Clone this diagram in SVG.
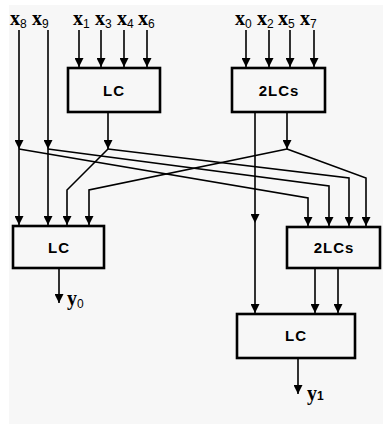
<svg xmlns="http://www.w3.org/2000/svg" width="383" height="424" viewBox="0 0 383 424">
<style>
.box{fill:none;stroke:#000;stroke-width:2.6}
.ln{fill:none;stroke:#000;stroke-width:1.6}
.ar{marker-end:url(#ah)}
.bl{font-family:"Liberation Sans",Arial,sans-serif;font-weight:bold;font-size:15px;text-anchor:middle;letter-spacing:1px}
.xv{font-family:"Liberation Serif","Times New Roman",serif;font-weight:bold;font-size:20px}
.sb{font-family:"Liberation Sans",Arial,sans-serif;font-size:12px}
</style>
<defs>
<marker id="ah" viewBox="0 0 10 10" refX="10" refY="5" markerWidth="10" markerHeight="9" markerUnits="userSpaceOnUse" orient="auto">
<path d="M0,0 L10,5 L0,10 z" fill="#000"/>
</marker>
</defs>
<rect x="0" y="0" width="383" height="424" fill="#fff"/>
<rect x="9" y="5" width="374" height="419" fill="#f7f7f7"/>

<g id="labels">
<text x="10" y="25"><tspan class="xv">x</tspan><tspan class="sb" dy="3">8</tspan></text>
<text x="32" y="25"><tspan class="xv">x</tspan><tspan class="sb" dy="3">9</tspan></text>
<text x="73" y="25"><tspan class="xv">x</tspan><tspan class="sb" dy="3">1</tspan></text>
<text x="95" y="25"><tspan class="xv">x</tspan><tspan class="sb" dy="3">3</tspan></text>
<text x="117" y="25"><tspan class="xv">x</tspan><tspan class="sb" dy="3">4</tspan></text>
<text x="138" y="25"><tspan class="xv">x</tspan><tspan class="sb" dy="3">6</tspan></text>
<text x="235" y="25"><tspan class="xv">x</tspan><tspan class="sb" dy="3">0</tspan></text>
<text x="257" y="25"><tspan class="xv">x</tspan><tspan class="sb" dy="3">2</tspan></text>
<text x="278" y="25"><tspan class="xv">x</tspan><tspan class="sb" dy="3">5</tspan></text>
<text x="300" y="25"><tspan class="xv">x</tspan><tspan class="sb" dy="3">7</tspan></text>
<text x="67" y="305"><tspan class="xv">y</tspan><tspan class="sb" dy="3">0</tspan></text>
<text x="307" y="400"><tspan class="xv">y</tspan><tspan class="sb" font-weight="bold" font-size="10px">1</tspan></text>
</g>

<g id="node-lc-top">
<rect class="box" x="68" y="68" width="92" height="44"/>
<text class="bl" x="114" y="96">LC</text>
</g>
<g id="node-2lcs-top">
<rect class="box" x="232" y="68" width="93" height="44"/>
<text class="bl" x="279" y="96">2LCs</text>
</g>
<g id="node-lc-left">
<rect class="box" x="13" y="226" width="91" height="42"/>
<text class="bl" x="59" y="253">LC</text>
</g>
<g id="node-2lcs-right">
<rect class="box" x="287" y="227" width="93" height="41"/>
<text class="bl" x="334" y="253">2LCs</text>
</g>
<g id="node-lc-bottom">
<rect class="box" x="237" y="314" width="118" height="44"/>
<text class="bl" x="296" y="341">LC</text>
</g>

<g id="connectors">
<line class="ln ar" x1="79" y1="30" x2="79" y2="67"/>
<line class="ln ar" x1="101" y1="30" x2="101" y2="67"/>
<line class="ln ar" x1="124" y1="30" x2="124" y2="67"/>
<line class="ln ar" x1="147" y1="30" x2="147" y2="67"/>
<line class="ln ar" x1="246" y1="30" x2="246" y2="67"/>
<line class="ln ar" x1="269" y1="30" x2="269" y2="67"/>
<line class="ln ar" x1="290" y1="30" x2="290" y2="67"/>
<line class="ln ar" x1="314" y1="30" x2="314" y2="67"/>

<line class="ln ar" x1="19" y1="30" x2="19" y2="149"/>
<line class="ln ar" x1="19" y1="149" x2="19" y2="225"/>
<line class="ln ar" x1="48" y1="30" x2="48" y2="149"/>
<line class="ln ar" x1="48" y1="149" x2="48" y2="225"/>
<line class="ln ar" x1="108" y1="113" x2="108" y2="149"/>
<line class="ln ar" x1="287" y1="113" x2="287" y2="149"/>
<line class="ln ar" x1="255" y1="113" x2="255" y2="223"/>
<line class="ln ar" x1="255" y1="223" x2="255" y2="313"/>

<polyline class="ln ar" points="19,149 308,198 308,226"/>
<polyline class="ln ar" points="48,149 329,186 329,226"/>
<polyline class="ln ar" points="108,149 349,178 349,226"/>
<polyline class="ln ar" points="287,149 366,178 366,226"/>
<polyline class="ln ar" points="108,149 67,190 67,225"/>
<polyline class="ln ar" points="287,149 89,190 89,225"/>

<line class="ln ar" x1="59" y1="269" x2="59" y2="303"/>
<line class="ln ar" x1="315" y1="269" x2="315" y2="313"/>
<line class="ln ar" x1="338" y1="269" x2="338" y2="313"/>
<line class="ln ar" x1="298" y1="359" x2="298" y2="394"/>
</g>
</svg>
